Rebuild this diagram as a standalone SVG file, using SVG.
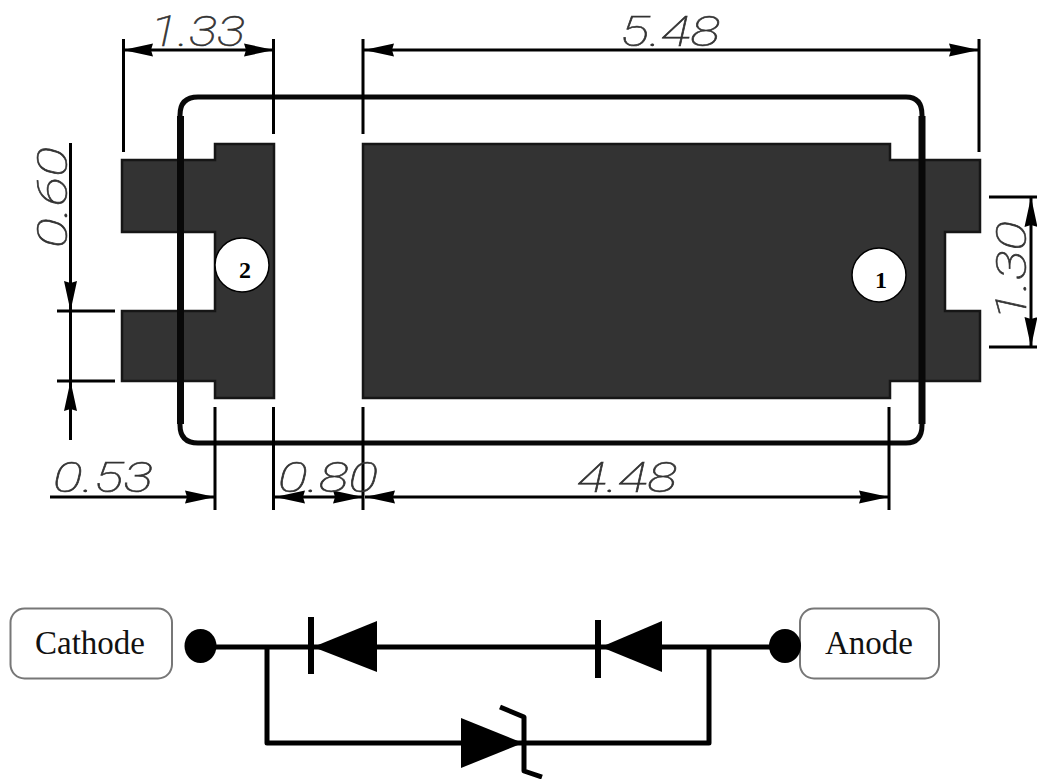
<svg xmlns="http://www.w3.org/2000/svg" width="1037" height="779" viewBox="0 0 1037 779">
<style>
.pad{fill:#333;stroke:#161616;stroke-width:2.5;stroke-linejoin:miter}
.outline{fill:none;stroke:#080808;stroke-width:5}
.thick{stroke:#080808;stroke-width:7;fill:none}
.dim{stroke:#000;stroke-width:3;fill:none}
.dimtext{font-family:"Roboto","Liberation Sans",sans-serif;font-style:italic;font-weight:100;font-size:43px;fill:#333;stroke:#333;stroke-width:.6}
.badge{fill:#fff;stroke:#000;stroke-width:1.5}
.num{font-family:"Liberation Serif",serif;font-weight:bold;font-size:24px;text-anchor:middle;fill:#000}
.box{fill:#fff;stroke:#777;stroke-width:2}
.lbl{font-family:"Liberation Serif",serif;font-size:33px;text-anchor:middle;fill:#111}
.wire{stroke:#000;stroke-width:5;fill:none;stroke-linejoin:round}
.bar{stroke:#000;stroke-width:6;fill:none}
</style>
<defs>
<marker id="arrow" markerUnits="userSpaceOnUse" viewBox="0 0 30 14" refX="30" refY="7" markerWidth="30" markerHeight="14" orient="auto">
<path d="M0,.5L30,7L0,13.500L2,7z" fill="#000"/>
</marker>
</defs>
<rect width="1037" height="779" fill="#fff"/>
<g id="pad-2"><path class="pad" d="M122,160H215V144H274V398H215V381H122V311H215V232H122z"/></g>
<g id="pad-1"><path class="pad" d="M363,144H890V160H980V232H945V311H980V381H890V398H363z"/></g>
<g id="package">
<path class="outline" d="M198,97H906Q922,97 922,115V425Q922,443 906,443H198Q180,443 180,425V115Q180,97 198,97z"/>
<path class="thick" d="M180.500,116V424M922,116V424"/>
</g>
<g id="badge-2"><circle class="badge" cx="242" cy="265" r="27"/><text class="num" x="245" y="278">2</text></g>
<g id="badge-1"><circle class="badge" cx="879" cy="275" r="27"/><text class="num" x="881" y="288">1</text></g>
<g id="connectors">
<path class="dim" d="M123.500,39V152M273.500,39V134M363,39V134M979,39V152M215,407V510M273.500,407V510M363,407V510M889,407V510M57,311H115M57,381H115M989,197H1037M989,347H1037M70.500,311V381"/>
<line class="dim" x1="200" y1="50" x2="123" y2="50" marker-end="url(#arrow)"/>
<line class="dim" x1="200" y1="50" x2="274" y2="50" marker-end="url(#arrow)"/>
<line class="dim" x1="670" y1="50" x2="364" y2="50" marker-end="url(#arrow)"/>
<line class="dim" x1="670" y1="50" x2="979" y2="50" marker-end="url(#arrow)"/>
<line class="dim" x1="70.500" y1="143" x2="70.500" y2="311" marker-end="url(#arrow)"/>
<line class="dim" x1="70.500" y1="440" x2="70.500" y2="381" marker-end="url(#arrow)"/>
<line class="dim" x1="1031" y1="272" x2="1031" y2="197" marker-end="url(#arrow)"/>
<line class="dim" x1="1031" y1="272" x2="1031" y2="347" marker-end="url(#arrow)"/>
<line class="dim" x1="50" y1="497" x2="215" y2="497" marker-end="url(#arrow)"/>
<line class="dim" x1="318" y1="497" x2="275" y2="497" marker-end="url(#arrow)"/>
<line class="dim" x1="318" y1="497" x2="363" y2="497" marker-end="url(#arrow)"/>
<line class="dim" x1="620" y1="497" x2="365" y2="497" marker-end="url(#arrow)"/>
<line class="dim" x1="620" y1="497" x2="889" y2="497" marker-end="url(#arrow)"/>
</g>
<g id="dimension-labels">
<text class="dimtext" x="150" y="46" textLength="95" lengthAdjust="spacingAndGlyphs">1.33</text>
<text class="dimtext" x="620" y="46" textLength="100" lengthAdjust="spacingAndGlyphs">5.48</text>
<text class="dimtext" transform="translate(67,248) rotate(-90)" textLength="101" lengthAdjust="spacingAndGlyphs">0.60</text>
<text class="dimtext" transform="translate(1026,321) rotate(-90)" textLength="100" lengthAdjust="spacingAndGlyphs">1.30</text>
<text class="dimtext" x="53" y="492" textLength="100" lengthAdjust="spacingAndGlyphs">0.53</text>
<text class="dimtext" x="278" y="492" textLength="100" lengthAdjust="spacingAndGlyphs">0.80</text>
<text class="dimtext" x="577" y="492" textLength="100" lengthAdjust="spacingAndGlyphs">4.48</text>
</g>
<g id="cathode-label"><rect class="box" x="10.500" y="608.500" width="161.500" height="70" rx="14"/><text class="lbl" x="90" y="654">Cathode</text></g>
<g id="anode-label"><rect class="box" x="800" y="608.500" width="139" height="70" rx="14"/><text class="lbl" x="869" y="654">Anode</text></g>
<g id="circuit-wires">
<path class="wire" d="M201,647H785M267,647V743H709V647"/>
</g>
<g id="terminal-cathode"><ellipse cx="200.500" cy="646" rx="16" ry="17"/></g>
<g id="terminal-anode"><ellipse cx="785" cy="646" rx="16" ry="17"/></g>
<g id="diode-1"><path d="M313,647L377,621V672z"/><path class="bar" d="M311,617V674"/></g>
<g id="diode-2"><path d="M601,647L662,621V672z"/><path class="bar" d="M598,620V678"/></g>
<g id="zener"><path d="M523,743L461,718V768z"/><path class="wire" d="M500,707L524,717V771L542,777"/></g>
</svg>
